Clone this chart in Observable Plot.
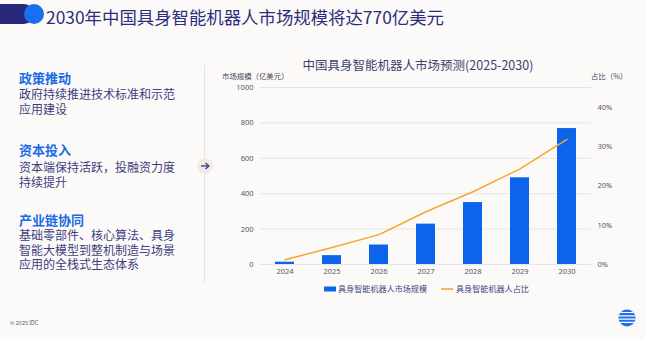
<!DOCTYPE html>
<html>
<head>
<meta charset="utf-8">
<script src="https://cdn.jsdelivr.net/npm/d3@7"></script>
<script src="https://cdn.jsdelivr.net/npm/@observablehq/plot@0.6"></script>
<style>
  @font-face { font-family:"CJKTight"; font-weight:400;
    src: local("Noto Sans CJK SC"), local("Noto Sans CJK SC Regular"), local("NotoSansCJKsc-Regular");
    ascent-override:88%; descent-override:12%; line-gap-override:0%; }
  @font-face { font-family:"CJKTight"; font-weight:700;
    src: local("Noto Sans CJK SC Bold"), local("NotoSansCJKsc-Bold");
    ascent-override:88%; descent-override:12%; line-gap-override:0%; }
  html, body { margin:0; padding:0; }
  body { width:645px; height:339px; background:#fcfaf8; position:relative; overflow:hidden;
         font-family:"Noto Sans CJK SC","Noto Sans",sans-serif; }
  .abs { position:absolute; white-space:nowrap; }
  .title { left:46px; top:5px; font-size:17.4px; line-height:24px; color:#2b2d7c; }
  .h { left:19px; font-family:"CJKTight","Noto Sans CJK SC",sans-serif; font-size:13px; line-height:14px; font-weight:700; color:#1a6be8; }
  .b { left:19px; font-family:"CJKTight","Noto Sans CJK SC",sans-serif; font-size:12px; line-height:14.6px; color:#3c3f7f; }
  .ctitle { left:418px; top:56px; transform:translateX(-50%); font-size:12.5px; line-height:18px; color:#3d3f70; }
  .alabel { font-size:7.4px; line-height:10px; color:#444458; }
  .legend { top:284px; font-size:8.1px; line-height:10px; color:#3c3f7f; }
  #chart { position:absolute; left:200px; top:50px; }
</style>
</head>
<body>
<svg class="abs" style="left:0;top:0" width="60" height="30">
  <rect x="-10" y="4" width="44" height="20" rx="10" fill="#27287a"/>
  <circle cx="34" cy="14" r="10" fill="#1a6ef0"/>
</svg>
<div class="abs title">2030年中国具身智能机器人市场规模将达770亿美元</div>

<div class="abs h" style="top:72px">政策推动</div>
<div class="abs b" style="top:87px">政府持续推进技术标准和示范<br>应用建设</div>
<div class="abs h" style="top:144px">资本投入</div>
<div class="abs b" style="top:160px">资本端保持活跃，投融资力度<br>持续提升</div>
<div class="abs h" style="top:214px">产业链协同</div>
<div class="abs b" style="top:228px">基础零部件、核心算法、具身<br>智能大模型到整机制造与场景<br>应用的全栈式生态体系</div>

<svg class="abs" style="left:190px;top:60px" width="30" height="225">
  <line x1="14.5" y1="5" x2="14.5" y2="222" stroke="#e8e3df" stroke-width="1"/>
  <circle cx="15" cy="106" r="8" fill="#f1ebe6"/>
  <line x1="11" y1="106" x2="18.5" y2="106" stroke="#3c3f7f" stroke-width="1.4"/>
  <path d="M15.5 103 L18.8 106 L15.5 109" fill="none" stroke="#3c3f7f" stroke-width="1.4"/>
</svg>

<div class="abs ctitle">中国具身智能机器人市场预测(2025-2030)</div>
<div class="abs alabel" style="left:222px;top:71px">市场规模（亿美元）</div>
<div class="abs alabel" style="left:591px;top:71px">占比（%）</div>

<div id="chart"></div>

<svg class="abs" style="left:320px;top:284px" width="20" height="10">
  <rect x="4" y="2.5" width="12" height="5" fill="#0b64ea"/>
</svg>
<div class="abs legend" style="left:338px">具身智能机器人市场规模</div>
<svg class="abs" style="left:438px;top:284px" width="18" height="10">
  <line x1="3" y1="5" x2="15" y2="5" stroke="#f5a62e" stroke-width="1.6"/>
</svg>
<div class="abs legend" style="left:456px">具身智能机器人占比</div>

<div class="abs" style="left:10px;top:319px;font-size:5.5px;line-height:8px;color:#555">© 2025 IDC</div>
<svg class="abs" style="left:617px;top:308px" width="20" height="20">
  <defs><clipPath id="lc"><circle cx="10" cy="10" r="8.5"/></clipPath></defs>
  <circle cx="10" cy="10" r="8.5" fill="#1f6fe8"/>
  <g clip-path="url(#lc)" stroke="#ffffff" stroke-width="1.2">
    <line x1="0" y1="4.5" x2="20" y2="4.5"/>
    <line x1="0" y1="7.8" x2="20" y2="7.8"/>
    <line x1="0" y1="11.1" x2="20" y2="11.1"/>
    <line x1="0" y1="14.4" x2="20" y2="14.4"/>
  </g>
</svg>

<script>
const years = ["2024","2025","2026","2027","2028","2029","2030"];
const marketSize = [13, 50, 110, 228, 350, 490, 768];      // 亿美元
const share = [1.2, 4.3, 7.6, 13.4, 18.5, 24.3, 31.8];     // %
const leftTicks = [0, 200, 400, 600, 800, 1000];
const rightTicks = [0, 10, 20, 30, 40];
const sizeMax = 1000, shareMax = 45;

const pctToY = v => v * sizeMax / shareMax;
const data = years.map((year, i) => ({year, size: marketSize[i], share: share[i]}));

const chart = Plot.plot({
  width: 440, height: 240,
  marginLeft: 60, marginRight: 49, marginTop: 37, marginBottom: 26,
  style: {background: "transparent", fontFamily: "'Noto Sans','Noto Sans CJK SC',sans-serif", fontSize: "7.5px", color: "#55566a", overflow: "visible"},
  x: {domain: years, paddingInner: 0.6, paddingOuter: 0.3, label: null},
  y: {domain: [0, sizeMax], label: null},
  marks: [
    Plot.gridY(leftTicks, {stroke: "#e7e4e3", strokeOpacity: 1}),
    Plot.axisY({ticks: leftTicks, tickFormat: d => String(d), tickSize: 0, tickPadding: 7, label: null}),
    Plot.axisY({anchor: "right", ticks: rightTicks.map(pctToY), tickFormat: d => Math.round(d * shareMax / sizeMax) + "%", tickSize: 0, tickPadding: 6, label: null}),
    Plot.axisX({tickSize: 0, tickPadding: 4, label: null}),
    Plot.barY(data, {x: "year", y: "size", fill: "#0b64ea"}),
    Plot.line(data, {x: "year", y: d => pctToY(d.share), stroke: "#f5a62e", strokeWidth: 1.5})
  ]
});
document.getElementById("chart").appendChild(chart);
</script>
</body>
</html>
